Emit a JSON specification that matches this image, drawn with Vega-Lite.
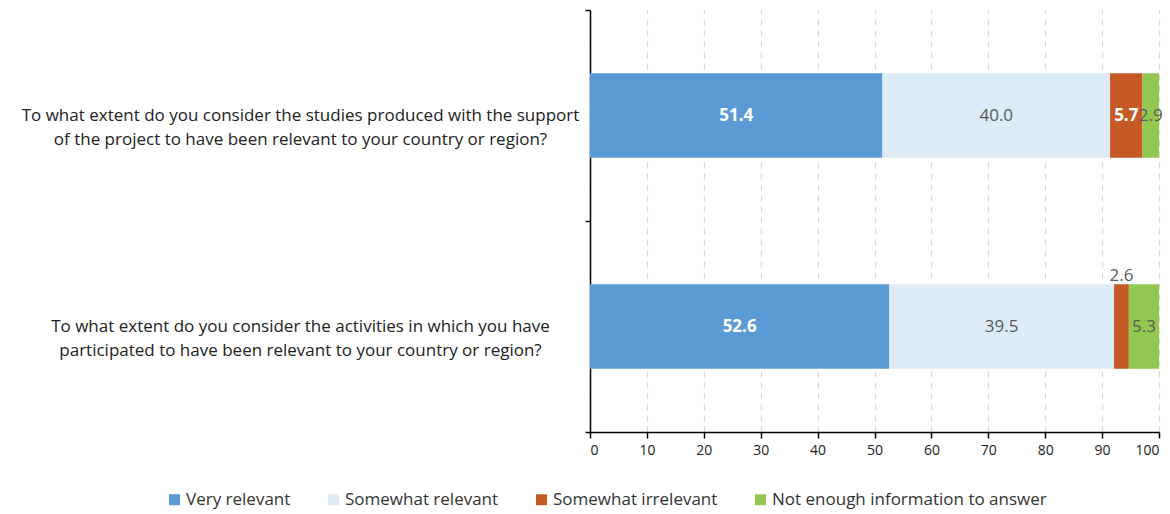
{
  "$schema": "https://vega.github.io/schema/vega-lite/v6.json",
  "width": 569,
  "height": 422,
  "autosize": {"type": "none"},
  "padding": {"left": 590, "top": 10, "right": 11, "bottom": 82},
  "config": {"font": "Open Sans", "view": {"stroke": null}},
  "data": {
    "values": [
      {"q": "To what extent do you consider the studies produced with the support|of the project to have been relevant to your country or region?", "series": "Very relevant", "order": 1, "value": 51.4},
      {"q": "To what extent do you consider the studies produced with the support|of the project to have been relevant to your country or region?", "series": "Somewhat relevant", "order": 2, "value": 40.0},
      {"q": "To what extent do you consider the studies produced with the support|of the project to have been relevant to your country or region?", "series": "Somewhat irrelevant", "order": 3, "value": 5.7},
      {"q": "To what extent do you consider the studies produced with the support|of the project to have been relevant to your country or region?", "series": "Not enough information to answer", "order": 4, "value": 2.9},
      {"q": "To what extent do you consider the activities in which you have|participated to have been relevant to your country or region?", "series": "Very relevant", "order": 1, "value": 52.6},
      {"q": "To what extent do you consider the activities in which you have|participated to have been relevant to your country or region?", "series": "Somewhat relevant", "order": 2, "value": 39.5},
      {"q": "To what extent do you consider the activities in which you have|participated to have been relevant to your country or region?", "series": "Somewhat irrelevant", "order": 3, "value": 2.6},
      {"q": "To what extent do you consider the activities in which you have|participated to have been relevant to your country or region?", "series": "Not enough information to answer", "order": 4, "value": 5.3}
    ]
  },
  "transform": [
    {"stack": "value", "groupby": ["q"], "sort": [{"field": "order"}], "as": ["x0", "x1"]},
    {"calculate": "(datum.x0 + datum.x1) / 2", "as": "mid"}
  ],
  "encoding": {
    "y": {
      "field": "q",
      "type": "nominal",
      "sort": null,
      "title": null,
      "scale": {"paddingInner": 0, "paddingOuter": 0},
      "axis": {
        "labelExpr": "split(datum.label, '|')",
        "labelAlign": "center",
        "labelBaseline": "middle",
        "labelPadding": 285,
        "labelFontSize": 17,
        "labelColor": "#222222",
        "labelLineHeight": 24,
        "labelLimit": 700,
        "tickBand": "extent",
        "tickSize": 5,
        "tickColor": "#000000",
        "tickWidth": 1.5,
        "domainColor": "#000000",
        "domainWidth": 1.5,
        "grid": false
      }
    }
  },
  "layer": [
    {
      "mark": {"type": "bar", "height": {"band": 0.4}},
      "encoding": {
        "x": {
          "field": "x0",
          "type": "quantitative",
          "title": null,
          "scale": {"domain": [0, 100], "nice": false},
          "axis": {
            "values": [0, 10, 20, 30, 40, 50, 60, 70, 80, 90, 100],
            "labelFontSize": 14,
            "labelColor": "#222222",
            "labelPadding": 5,
            "tickSize": 6,
            "tickColor": "#000000",
            "tickWidth": 1.5,
            "domainColor": "#000000",
            "domainWidth": 1.5,
            "grid": true,
            "gridColor": "#D9D9D9",
            "gridDash": [6, 5],
            "gridWidth": 1.2
          }
        },
        "x2": {"field": "x1"},
        "color": {
          "field": "series",
          "type": "nominal",
          "sort": ["Very relevant", "Somewhat relevant", "Somewhat irrelevant", "Not enough information to answer"],
          "scale": {
            "domain": ["Very relevant", "Somewhat relevant", "Somewhat irrelevant", "Not enough information to answer"],
            "range": ["#5B9BD5", "#DDEBF7", "#C55A24", "#92C850"]
          },
          "legend": {
            "title": null,
            "orient": "none",
            "direction": "horizontal",
            "legendX": -424,
            "legendY": 481,
            "symbolType": "square",
            "symbolSize": 121,
            "symbolStrokeWidth": 0,
            "symbolOpacity": 1,
            "labelFontSize": 17,
            "labelColor": "#333333",
            "labelOffset": 3,
            "columnPadding": 34,
            "labelLimit": 400
          }
        }
      }
    },
    {
      "transform": [{"filter": "(datum.series == 'Very relevant' || datum.series == 'Somewhat irrelevant') && datum.value >= 5"}],
      "mark": {"type": "text", "fontSize": 17, "fontWeight": "bold", "color": "#FFFFFF"},
      "encoding": {
        "x": {"field": "mid", "type": "quantitative"},
        "text": {"field": "value", "type": "quantitative", "format": ".1f"}
      }
    },
    {
      "transform": [{"filter": "datum.series == 'Somewhat relevant' || datum.series == 'Not enough information to answer'"}],
      "mark": {"type": "text", "fontSize": 17, "color": "#595959"},
      "encoding": {
        "x": {"field": "mid", "type": "quantitative"},
        "text": {"field": "value", "type": "quantitative", "format": ".1f"}
      }
    },
    {
      "transform": [{"filter": "datum.series == 'Somewhat irrelevant' && datum.value < 5"}],
      "mark": {"type": "text", "fontSize": 17, "color": "#595959", "dy": -51},
      "encoding": {
        "x": {"field": "mid", "type": "quantitative"},
        "text": {"field": "value", "type": "quantitative", "format": ".1f"}
      }
    }
  ]
}
